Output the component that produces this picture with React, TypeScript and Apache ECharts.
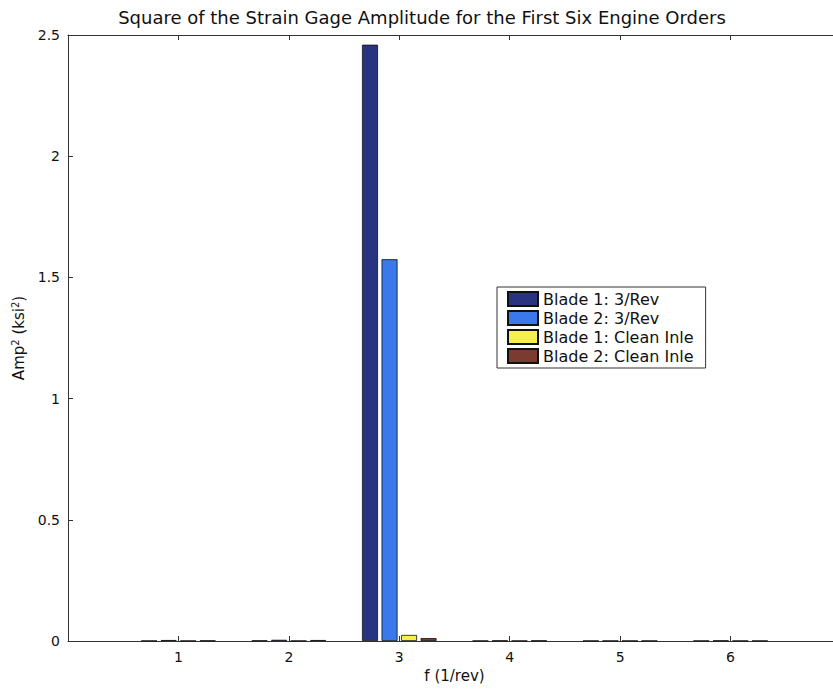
import React, { useEffect, useRef } from "react";
import * as echarts from "echarts";

// Engine orders on the frequency axis
const orders = [1, 2, 3, 4, 5, 6];

// Squared strain gage amplitude (ksi^2) per engine order
const blade1ThreeRev = [0.001, 0.002, 2.46, 0.001, 0.001, 0.001];
const blade2ThreeRev = [0.004, 0.005, 1.575, 0.002, 0.001, 0.002];
const blade1Clean = [0.001, 0.001, 0.025, 0.001, 0.001, 0.001];
const blade2Clean = [0.002, 0.004, 0.012, 0.002, 0.001, 0.001];

const seriesNames = [
  "Blade 1: 3/Rev",
  "Blade 2: 3/Rev",
  "Blade 1: Clean Inle",
  "Blade 2: Clean Inle",
];
const seriesColors = ["#28347f", "#3a78ec", "#f6f04c", "#7b3b31"];
const seriesValues = [blade1ThreeRev, blade2ThreeRev, blade1Clean, blade2Clean];

const yTicks = [0, 0.5, 1, 1.5, 2, 2.5];

const FONT = "DejaVu Sans, Liberation Sans, Arial, sans-serif";

export default function App() {
  const ref = useRef<HTMLDivElement>(null);

  useEffect(() => {
    if (!ref.current) return;
    const chart = echarts.init(ref.current, null, { renderer: "svg" });

    const axisLine = { show: true, lineStyle: { color: "#333", width: 1 } };
    const tickStyle = { show: true, inside: true, length: 5, lineStyle: { color: "#333" } };

    chart.setOption({
      animation: false,
      backgroundColor: "#ffffff",
      textStyle: { fontFamily: FONT },
      title: {
        text: "Square of the Strain Gage Amplitude for the First Six Engine Orders",
        left: 417,
        textAlign: "center",
        top: 3,
        textStyle: { fontFamily: FONT, fontSize: 18, fontWeight: "normal", color: "#111" },
      },
      // the plot area runs on past the right edge of the visible frame
      grid: { left: 68, right: 8, top: 35, bottom: 48, containLabel: false },
      legend: {
        orient: "vertical",
        left: 497,
        top: 287,
        icon: "rect",
        itemWidth: 30,
        itemHeight: 14,
        itemGap: 3,
        padding: [4, 12, 4, 10],
        borderColor: "#333",
        borderWidth: 1,
        backgroundColor: "#ffffff",
        textStyle: { fontFamily: FONT, fontSize: 16, lineHeight: 16, color: "#111" },
        data: seriesNames,
      },
      xAxis: [
        {
          type: "value",
          min: 0,
          max: 7,
          interval: 1,
          name: "f (1/rev)",
          nameLocation: "middle",
          nameGap: 25,
          nameTextStyle: { fontFamily: FONT, fontSize: 15, color: "#111" },
          axisLine,
          axisTick: tickStyle,
          splitLine: { show: false },
          axisLabel: {
            fontFamily: FONT,
            fontSize: 14,
            color: "#111",
            margin: 9,
            formatter: (v: number) => (orders.includes(v) ? String(v) : ""),
          },
        },
        {
          type: "value",
          position: "top",
          min: 0,
          max: 7,
          interval: 1,
          axisLine,
          axisTick: tickStyle,
          axisLabel: { show: false },
          splitLine: { show: false },
        },
      ],
      yAxis: {
        type: "value",
        min: 0,
        max: 2.5,
        interval: 0.5,
        name: "{a|Amp}{s|2}{a| (ksi}{s|2}{a|)}",
        nameLocation: "middle",
        nameGap: 32,
        nameRotate: 90,
        nameTextStyle: {
          rich: {
            a: { fontFamily: FONT, fontSize: 15, color: "#111" },
            s: { fontFamily: FONT, fontSize: 10, color: "#111", verticalAlign: "top", padding: [0, 0, 7, 0] },
          },
        },
        axisLine,
        axisTick: tickStyle,
        splitLine: { show: false },
        axisLabel: {
          fontFamily: FONT,
          fontSize: 14,
          color: "#111",
          margin: 8,
          formatter: (v: number) => (yTicks.includes(v) ? String(v) : ""),
        },
      },
      series: seriesNames.map((name, i) => ({
        name,
        type: "bar",
        xAxisIndex: 0,
        barWidth: 16,
        barGap: "22%",
        itemStyle: { color: seriesColors[i], borderColor: "#111", borderWidth: 0.8 },
        data: orders.map((o, j) => [o, seriesValues[i][j]]),
      })),
    });

    return () => chart.dispose();
  }, []);

  return (
    <div
      style={{
        position: "absolute",
        left: 0,
        top: 0,
        width: 833,
        height: 689,
        overflow: "hidden",
        background: "#ffffff",
      }}
    >
      <div ref={ref} style={{ width: 849, height: 689 }} />
    </div>
  );
}
